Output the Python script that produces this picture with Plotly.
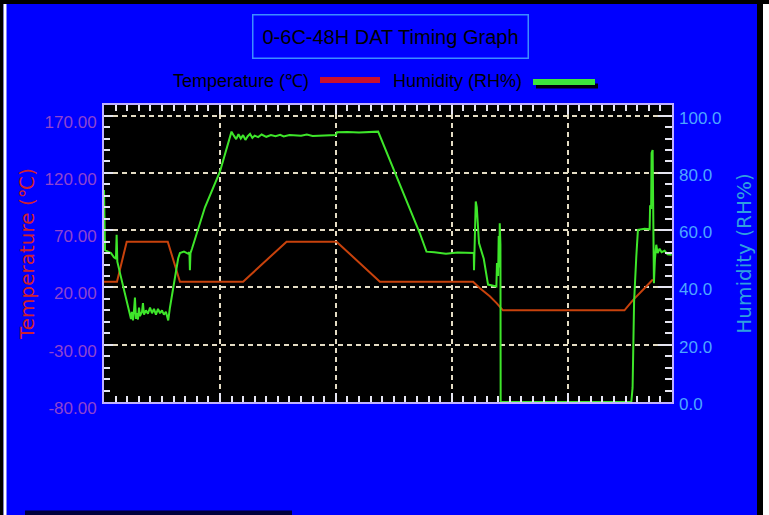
import plotly.graph_objects as go

# ---------------- data ----------------
temp_hours = [0, 1.12, 1.96, 5.5, 6.55, 12.0, 15.75, 20.06, 23.8, 31.84, 32.41, 33.28,
              33.85, 34.42, 44.9, 45.63, 46.5, 47.2, 47.35]
temp_values = [25, 25, 60, 60, 25, 25, 60, 60, 25, 25, 19.6, 12.3,
               6.5, 0, 0, 9, 18, 25, 27]

hum_hours = [0, 0.04, 0.09, 0.34, 0.60, 0.86, 1.03, 1.09, 1.15, 1.38, 1.81, 2.09,
             2.24, 2.33, 2.41, 2.5, 2.59, 2.67, 2.76, 2.84, 2.93, 3.02, 3.1, 3.28,
             3.36, 3.45, 3.62, 3.79, 3.97, 4.14, 4.31, 4.48, 4.66, 4.83, 5.0, 5.17,
             5.34, 5.47, 5.54, 5.69, 6.03, 6.40, 6.55, 6.90, 7.24, 7.37, 7.41, 7.46,
             7.59, 8.71, 10.0, 11.0, 11.2, 11.4, 11.6, 11.8, 12.0, 12.2, 12.4, 12.6,
             12.8, 13.0, 13.3, 13.6, 14.0, 14.4, 14.8, 15.2, 15.5, 16.0, 17.0, 17.5,
             18.0, 19.0, 19.8, 20.0, 20.1, 21.0, 22.0, 23.65, 27.24, 27.82, 28.5, 29.5,
             30.5, 31.5, 31.9, 31.92, 32.07, 32.16, 32.35, 32.76, 33.13, 33.85, 33.9, 34.0,
             34.05, 34.1, 34.14, 34.2, 34.22, 45.49, 45.6, 45.73, 45.78, 45.92, 46.06, 46.64,
             47.07, 47.11, 47.2, 47.24, 47.33, 47.41, 47.44, 47.53, 47.64, 47.76, 47.93, 48.1,
             48.36, 48.62, 48.97]
hum_values = [74, 60, 53, 52.5, 52, 50.5, 50, 58.4, 49, 45, 38, 33.3,
              30.5, 29, 31.5, 28.5, 32, 36.5, 29, 31, 28.8, 33, 30, 31.5,
              34.5, 30.5, 32, 30.8, 33, 31, 32.5, 30.5, 32.5, 31, 32, 30.5,
              31.5, 30, 28.5, 33, 42, 50.2, 52, 52.5, 51.8, 52.3, 46, 52,
              53.5, 68, 80.4, 94.4, 93, 91.8, 93.5, 92, 93.2, 91.5, 92.8, 93.6,
              92.2, 93, 92.5, 93.4, 92.6, 93.2, 92.8, 93.3, 92.7, 93.2, 93, 93.4,
              92.9, 93.1, 93.0, 93.2, 94.2, 94.3, 94.1, 94.4, 59, 52.5, 52.3, 51.8,
              52.2, 52, 52, 46, 70, 68, 55.5, 50, 41, 40.3, 48.5, 44,
              58, 47, 62.4, 55, 0, 0, 5, 35, 40.3, 50.8, 60.1, 60.5,
              60.3, 68.2, 68, 87, 88, 60, 41.5, 50, 54.9, 52, 53.5, 52.3,
              52.8, 51.6, 51.4]

title_text = "0-6C-48H DAT Timing Graph"
temp_name = "Temperature (\u2103)"
hum_name = "Humidity (RH%)"

temp_ticks = [-80, -30, 20, 70, 120, 170]
hum_ticks = [0, 20, 40, 60, 80, 100]

# ---------------- layout constants ----------------
W, H = 769, 515
ML, MR, MT, MB = 104, 97, 105, 113
PW, PH = W - ML - MR, H - MT - MB


def px(x):
    return (x - ML) / PW


def py(y):
    return (H - MB - y) / PH


BLUE = "#0000ff"
FRAME = "#bfb0ff"
TICK = "#e6e6f2"
GRID = "#e4dcc4"
FONT = "Liberation Sans, Arial, sans-serif"

fig = go.Figure()
fig.add_trace(go.Scatter(x=temp_hours, y=temp_values, mode="lines", name=temp_name,
                         line=dict(color="#c8420c", width=2), yaxis="y"))
fig.add_trace(go.Scatter(x=hum_hours, y=hum_values, mode="lines", name=hum_name,
                         line=dict(color="#3ee62a", width=2), yaxis="y2"))

fig.update_layout(
    width=W, height=H,
    margin=dict(l=ML, r=MR, t=MT, b=MB, pad=0),
    paper_bgcolor=BLUE, plot_bgcolor="black",
    showlegend=False,
    font=dict(family=FONT),
    xaxis=dict(range=[0, 49], showticklabels=False, tick0=0, dtick=10,
               ticks="inside", ticklen=9, tickwidth=1.5, tickcolor=TICK,
               minor=dict(dtick=1, ticks="inside", ticklen=6, tickwidth=1.5, tickcolor=TICK),
               showline=True, linecolor=FRAME, linewidth=2, mirror="ticks",
               showgrid=True, gridcolor=GRID, gridwidth=1.5, griddash="5px,4px",
               zeroline=False),
    yaxis=dict(range=[-80, 179.3], tickmode="array", tickvals=temp_ticks,
               ticktext=[f"{v:.2f}" for v in temp_ticks],
               ticks="inside", ticklen=9, tickwidth=1.5, tickcolor=TICK,
               minor=dict(dtick=10, tick0=-80, ticks="inside", ticklen=6, tickwidth=1.5, tickcolor=TICK),
               tickfont=dict(color="#8d45d0", size=17, family=FONT),
               ticklabelstandoff=2, ticklabelshift=6,
               showline=True, linecolor=FRAME, linewidth=2, mirror=True,
               showgrid=True, gridcolor=GRID, gridwidth=1.5, griddash="5px,4px",
               zeroline=False,
               title=dict(text=temp_name, standoff=5,
                          font=dict(color="#d0202e", size=20, family="DejaVu Sans, sans-serif"))),
    yaxis2=dict(range=[0, 103.7], overlaying="y", side="right", tickmode="array",
                tickvals=hum_ticks, ticktext=[f"{v:.1f}" for v in hum_ticks],
                ticks="inside", ticklen=14, tickwidth=1.5, tickcolor=TICK,
                minor=dict(dtick=4, tick0=0, ticks="inside", ticklen=7, tickwidth=1.5, tickcolor=TICK),
                tickfont=dict(color="#4ea6ff", size=17, family=FONT),
                ticklabelstandoff=6, ticklabelshift=2,
                showline=False, showgrid=False, zeroline=False,
                title=dict(text=hum_name, standoff=16,
                           font=dict(color="#2f9fe0", size=20, family="DejaVu Sans, sans-serif"))),
)

# title box
fig.add_annotation(x=px(390), y=py(36.5), xref="paper", yref="paper",
                   text=title_text, showarrow=False, xanchor="center", yanchor="middle",
                   font=dict(size=20, color="black", family=FONT),
                   width=270, height=38, borderpad=2, bordercolor="#3c8cff", borderwidth=1.5)

# legend texts (text left, swatch right as in the reference)
fig.add_annotation(x=px(311), y=py(81), xref="paper", yref="paper", text=temp_name,
                   showarrow=False, xanchor="right", yanchor="middle",
                   font=dict(size=18, color="black", family=FONT))
fig.add_annotation(x=px(524), y=py(81), xref="paper", yref="paper", text=hum_name,
                   showarrow=False, xanchor="right", yanchor="middle",
                   font=dict(size=18, color="black", family=FONT))

shapes = []
# legend swatches
shapes.append(dict(type="line", xref="paper", yref="paper", x0=px(320), x1=px(380),
                   y0=py(80), y1=py(80), line=dict(color="#c8102e", width=6)))
shapes.append(dict(type="line", xref="paper", yref="paper", x0=px(536), x1=px(598),
                   y0=py(86), y1=py(86), line=dict(color="#000010", width=5)))
shapes.append(dict(type="line", xref="paper", yref="paper", x0=px(533), x1=px(595),
                   y0=py(82), y1=py(82), line=dict(color="#3ce83c", width=6)))
# outer frame of the picture
for (x0, x1, y0, y1, c) in [(0, 3.5, 0, H, "black"), (3.5, 6.5, 4, H, "white"),
                            (757, 763, 0, H, "black"), (763, W, 0, H, "white"),
                            (0, W, 0, 4, "black"), (25, 292, 510.5, H, "#00003c")]:
    shapes.append(dict(type="rect", xref="paper", yref="paper", x0=px(x0), x1=px(x1),
                       y0=py(y1), y1=py(y0), line=dict(width=0), fillcolor=c, layer="above"))
fig.update_layout(shapes=shapes)

fig.write_html("out.html", config={"displayModeBar": False},
               post_script="document.body.style.margin='0';document.body.style.overflow='hidden';")
